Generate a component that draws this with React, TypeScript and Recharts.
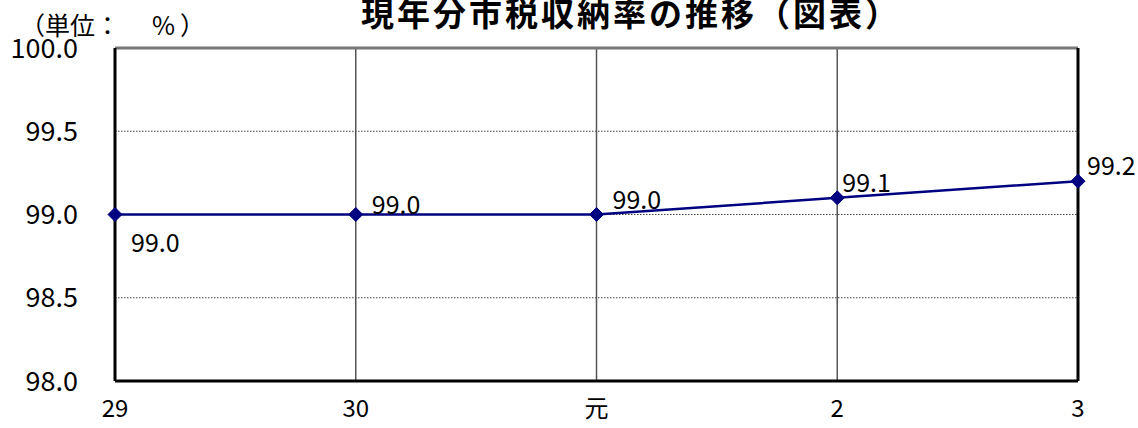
import React from "react";
import { LineChart, Line, XAxis, YAxis, CartesianGrid, ReferenceLine, LabelList } from "recharts";

const categories = ["29", "30", "元", "2", "3"];
const rates = [99.0, 99.0, 99.0, 99.1, 99.2];
const yTicks = [98.0, 98.5, 99.0, 99.5, 100.0];

const data = categories.map((c, i) => ({ year: c, rate: rates[i] }));

const FONT = "'Noto Sans CJK JP', 'Noto Sans', sans-serif";

const Diamond = (props: any) => {
  const { cx, cy } = props;
  if (cx == null || cy == null) return null;
  const r = 7;
  return (
    <polygon
      points={`${cx},${cy - r} ${cx + r},${cy} ${cx},${cy + r} ${cx - r},${cy}`}
      fill="#000080"
      stroke="#000080"
    />
  );
};

const PointLabel = (props: any) => {
  const { x, y, value, index } = props;
  const below = index === 0;
  const dx = index === 3 ? 5 : index === 4 ? 9 : 16;
  const dy = below ? 26 : index === 1 ? -12 : -17;
  return (
    <text
      x={x + dx}
      y={y + dy}
      fontSize={25}
      fontFamily={FONT}
      fill="#000"
      dominantBaseline="central"
    >
      {Number(value).toFixed(1)}
    </text>
  );
};

const unitStyle: React.CSSProperties = {
  position: "absolute",
  top: 9,
  fontFamily: FONT,
  fontSize: 25,
  lineHeight: "30px",
  color: "#000",
  zIndex: 2,
};

export default function App() {
  return (
    <div style={{ position: "absolute", left: 0, top: 0, width: 1138, height: 428, background: "#fff", overflow: "hidden" }}>
      <div
        style={{
          position: "absolute",
          left: 361,
          top: -3,
          fontFamily: FONT,
          fontWeight: 700,
          fontSize: 33,
          letterSpacing: 3,
          lineHeight: "30px",
          color: "#000",
          whiteSpace: "nowrap",
          zIndex: 2,
        }}
      >
        現年分市税収納率の推移（図表）
      </div>
      <div style={{ ...unitStyle, left: 20 }}>（単位：</div>
      <div style={{ ...unitStyle, left: 152 }}>%</div>
      <div style={{ ...unitStyle, left: 180 }}>）</div>
      <LineChart
        width={1138}
        height={428}
        data={data}
        margin={{ top: 48, right: 60, bottom: 0, left: 0 }}
      >
        <CartesianGrid horizontal={false} vertical stroke="#555" strokeWidth={1.5} />
        <ReferenceLine y={99.5} stroke="#444" strokeDasharray="1.5 1.5" strokeWidth={1} />
        <ReferenceLine y={99.0} stroke="#444" strokeDasharray="1.5 1.5" strokeWidth={1} />
        <ReferenceLine y={98.5} stroke="#444" strokeDasharray="1.5 1.5" strokeWidth={1} />
        <ReferenceLine y={100} stroke="#777" strokeWidth={3} />
        <ReferenceLine x="3" stroke="#000" strokeWidth={3} />
        <XAxis
          dataKey="year"
          height={47}
          axisLine={{ stroke: "#000", strokeWidth: 3 }}
          tickLine={false}
          tickSize={0}
          tickMargin={19}
          tick={{ fontSize: 24, fontFamily: FONT, fill: "#000" }}
          interval={0}
        />
        <YAxis
          width={115}
          domain={[98, 100]}
          ticks={yTicks}
          allowDataOverflow
          axisLine={{ stroke: "#000", strokeWidth: 3 }}
          tickLine={false}
          tickSize={0}
          tickMargin={37}
          tick={{ fontSize: 27, fontFamily: FONT, fill: "#000" }}
          tickFormatter={(v: number) => v.toFixed(1)}
        />
        <Line
          type="linear"
          dataKey="rate"
          stroke="#000080"
          strokeWidth={2.5}
          dot={<Diamond />}
          activeDot={false}
          isAnimationActive={false}
        >
          <LabelList dataKey="rate" content={<PointLabel />} />
        </Line>
      </LineChart>
    </div>
  );
}
